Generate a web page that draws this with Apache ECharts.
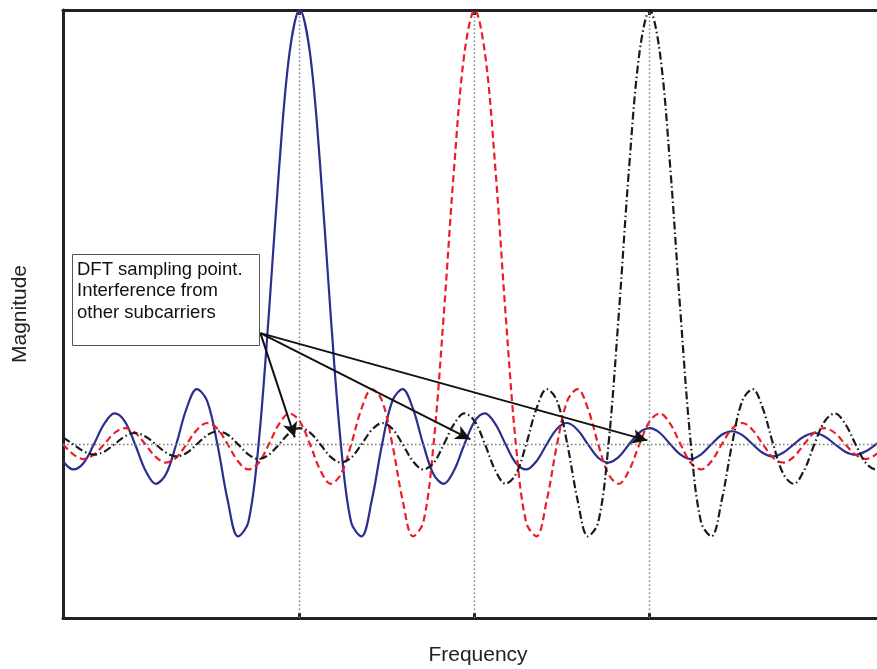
<!DOCTYPE html>
<html><head><meta charset="utf-8">
<script src="https://cdn.jsdelivr.net/npm/echarts@6/dist/echarts.min.js"></script>
<style>html,body{margin:0;padding:0;background:#fff}#c{width:877px;height:669px}</style>
</head><body><div id="c"></div>
<script>
// Sample positions along the frequency axis (sub-carrier spacing = 4.25 units)
const freq = [-5.75,-5.5,-5.25,-5,-4.75,-4.5,-4.25,-4,-3.75,-3.5,-3.25,-3,-2.75,-2.5,-2.25,-2,-1.75,-1.5,-1.25,-1,-0.75,-0.5,-0.25,0,0.25,0.5,0.75,1,1.25,1.5,1.75,2,2.25,2.5,2.75,3,3.25,3.5,3.75,4,4.25,4.5,4.75,5,5.25,5.5,5.75,6,6.25,6.5,6.75,7,7.25,7.5,7.75,8,8.25,8.5,8.75,9,9.25,9.5,9.75,10,10.25,10.5,10.75,11,11.25,11.5,11.75,12,12.25,12.5,12.75,13,13.25,13.5,13.75,14,14.25];
// Sub-carrier 1 (blue, solid)
const blue = [-0.039,-0.058,-0.043,0,0.047,0.071,0.053,0,-0.060,-0.091,-0.069,0,0.082,0.127,0.100,0,-0.129,-0.212,-0.180,0,0.300,0.637,0.900,1,0.900,0.637,0.300,0,-0.180,-0.212,-0.129,0,0.100,0.127,0.082,0,-0.069,-0.091,-0.060,0,0.053,0.071,0.047,0,-0.043,-0.058,-0.039,0,0.036,0.049,0.033,0,-0.031,-0.042,-0.029,0,0.027,0.037,0.026,0,-0.024,-0.034,-0.023,0,0.022,0.030,0.021,0,-0.020,-0.028,-0.019,0,0.018,0.026,0.018,0,-0.017,-0.024,-0.016,0,0.016];
// Sub-carrier 2 (red, dashed)
const red = [0,-0.023,-0.034,-0.024,0,0.026,0.037,0.027,0,-0.029,-0.042,-0.031,0,0.033,0.049,0.036,0,-0.039,-0.058,-0.043,0,0.047,0.071,0.053,0,-0.060,-0.091,-0.069,0,0.082,0.127,0.100,0,-0.129,-0.212,-0.180,0,0.300,0.637,0.900,1,0.900,0.637,0.300,0,-0.180,-0.212,-0.129,0,0.100,0.127,0.082,0,-0.069,-0.091,-0.060,0,0.053,0.071,0.047,0,-0.043,-0.058,-0.039,0,0.036,0.049,0.033,0,-0.031,-0.042,-0.029,0,0.027,0.037,0.026,0,-0.024,-0.034,-0.023,0];
// Sub-carrier 3 (black, dash-dot)
const black = [0.016,0,-0.016,-0.024,-0.017,0,0.018,0.026,0.018,0,-0.019,-0.028,-0.020,0,0.021,0.030,0.022,0,-0.023,-0.034,-0.024,0,0.026,0.037,0.027,0,-0.029,-0.042,-0.031,0,0.033,0.049,0.036,0,-0.039,-0.058,-0.043,0,0.047,0.071,0.053,0,-0.060,-0.091,-0.069,0,0.082,0.127,0.100,0,-0.129,-0.212,-0.180,0,0.300,0.637,0.900,1,0.900,0.637,0.300,0,-0.180,-0.212,-0.129,0,0.100,0.127,0.082,0,-0.069,-0.091,-0.060,0,0.053,0.071,0.047,0,-0.043,-0.058,-0.039];
// Sub-carrier centres = DFT sampling points (x ticks)
const carrierCenters = [0, 4.25, 8.5];
const noteLines = ['DFT sampling point.', 'Interference from', 'other subcarriers'];
const arrowStart = [-0.955, 0.256];
const arrowTips = [[-0.12, 0.016], [4.145, 0.0115], [8.443, 0.009]];
const xTitle = 'Frequency';
const yTitle = 'Magnitude';

const FONT = '"Liberation Sans", Arial, Helvetica, sans-serif';
const chart = echarts.init(document.getElementById('c'), null, {renderer: 'canvas'});
const pairs = a => freq.map((f, i) => [f, a[i]]);
const frame = {show: true, onZero: false, lineStyle: {color: '#222', width: 3}};
const tick = {show: true, inside: true, length: 5, customValues: carrierCenters, lineStyle: {color: '#222', width: 3}};
const titleStyle = {fontFamily: FONT, fontSize: 21, color: '#222'};
const SM = 0.35;

const option = {
  animation: false,
  grid: {left: 63, top: 10, width: 830, height: 608, containLabel: false, outerBoundsMode: 'none'},
  xAxis: [
    {type: 'value', min: -5.75, max: 14.41, position: 'bottom', axisLine: frame, axisTick: tick,
     axisLabel: {show: false}, splitLine: {show: false},
     name: xTitle, nameLocation: 'middle', nameGap: 27, nameTextStyle: titleStyle},
    {type: 'value', min: -5.75, max: 14.41, position: 'top', axisLine: frame, axisTick: tick,
     axisLabel: {show: false}, splitLine: {show: false}}
  ],
  yAxis: {type: 'value', min: -0.4, max: 1, axisLine: frame, axisTick: {show: false},
    axisLabel: {show: false}, splitLine: {show: false},
    name: yTitle, nameLocation: 'middle', nameGap: 32, nameTextStyle: titleStyle},
  series: [
    {type: 'line', data: pairs(blue), smooth: SM, symbol: 'none', z: 3,
     lineStyle: {color: '#2a2e8e', width: 2.2},
     markLine: {silent: true, symbol: 'none', label: {show: false},
       lineStyle: {color: '#7a7a7a', width: 1.4, type: [1.5, 2.5]},
       data: carrierCenters.map(c => ({xAxis: c})).concat([{yAxis: 0}])}},
    {type: 'line', data: pairs(red), smooth: SM, symbol: 'none', z: 4,
     lineStyle: {color: '#ee1c25', width: 2.2, type: [7, 4]}},
    {type: 'line', data: pairs(black), smooth: SM, symbol: 'none', z: 5,
     lineStyle: {color: '#1a1a1a', width: 2.2, type: [8, 3, 1.5, 3]},
     markLine: {silent: true, symbol: ['none', 'arrow'], symbolSize: [11, 15], label: {show: false},
       lineStyle: {color: '#111', width: 2, type: 'solid'},
       data: arrowTips.map(t => [{coord: arrowStart}, {coord: t}])}}
  ],
  graphic: [
    {type: 'rect', z: 100, shape: {x: 72.5, y: 254.5, width: 187, height: 91},
     style: {fill: '#fff', stroke: '#555', lineWidth: 1}},
    {type: 'text', z: 101, style: {x: 77, y: 259, text: noteLines.join('\n'),
      font: '18.5px ' + FONT, lineHeight: 21.5, fill: '#111', verticalAlign: 'top'}}
  ]
};
chart.setOption(option);
</script></body></html>
